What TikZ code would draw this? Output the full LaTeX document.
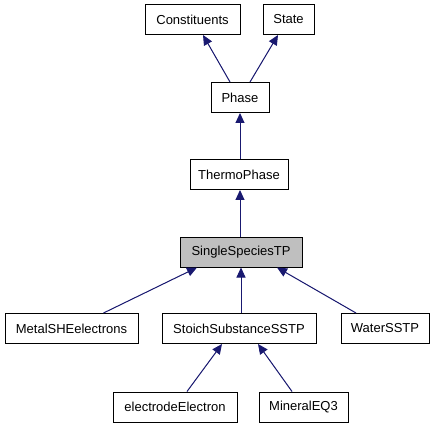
\documentclass[tikz,border=0pt]{standalone}
\usepackage{fontspec}
\setmainfont{Liberation Sans}
\usepackage{tikz}
\usetikzlibrary{arrows.meta}
\usetikzlibrary{shapes,positioning}
\definecolor{edgeblue}{HTML}{191970}
\tikzset{>={Triangle[length=10pt,width=9pt]},
  cls/.style={draw, thick, line width=1pt, rectangle, inner sep=0pt, minimum height=30pt, font=\fontsize{13}{15}\selectfont},
  inh/.style={->, draw=edgeblue, fill=edgeblue, line width=1pt}}

\begin{document}
\begin{tikzpicture}[x=1pt,y=-1pt]

	\useasboundingbox (0,0) rectangle (435,427);

	\node [cls, minimum width=95] (constituents) at (192.5,19.5) {Constituents};
	\node [cls, minimum width=51] (state) at (288.5,19.5) {State};
	\node [cls, minimum width=58] (phase) at (240,97.5) {Phase};
	\node [cls, minimum width=98] (thermo) at (239,174.5) {ThermoPhase};
	\node [cls, minimum width=122, fill=gray!50] (single) at (241,252) {SingleSpeciesTP};

	\node [cls, minimum width=133] (metal) at (71.5,328.5) {MetalSHEelectrons};
	\node [cls, minimum width=154] (stoich) at (239,328.5) {StoichSubstanceSSTP};
	\node [cls, minimum width=88] (water) at (385,328.5) {WaterSSTP};

	\node [cls, minimum width=124] (electrode) at (175,407) {electrodeElectron};
	\node [cls, minimum width=89] (mineral) at (303.5,407) {MineralEQ3};


	\draw [inh] ([xshift=-10]phase.north) -- ([xshift=10.5]constituents.south);
	\draw [inh] ([xshift=10]phase.north) -- ([xshift=-10.5]state.south);
	\draw [inh] ([xshift=1]thermo.north) -- (phase.south);
	\draw [inh] ([xshift=-1]single.north) -- ([xshift=1]thermo.south);

	\draw [inh] ([xshift=32]metal.north) -- ([xshift=-44]single.south);
	\draw [inh] ([xshift=2]stoich.north) -- (single.south);
	\draw [inh] ([xshift=-29]water.north) -- ([xshift=36]single.south);

	\draw [inh] ([xshift=12]electrode.north) -- ([xshift=-17]stoich.south);
	\draw [inh] ([xshift=-11.5]mineral.north) -- ([xshift=19]stoich.south);

\end{tikzpicture}
\end{document}
